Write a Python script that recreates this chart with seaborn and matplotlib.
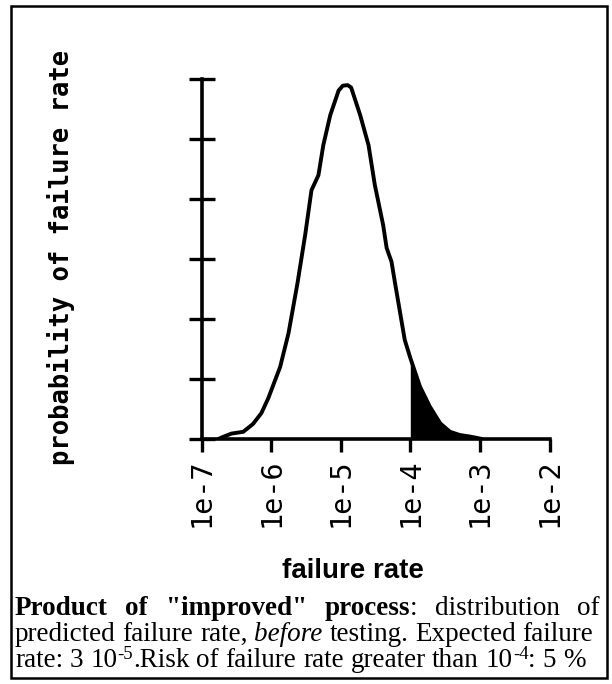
import matplotlib
matplotlib.use("Agg")
import matplotlib.pyplot as plt
import numpy as np
import pandas as pd
import seaborn as sns
from matplotlib.patches import Rectangle
from matplotlib.ticker import NullLocator

# curve: log10(failure rate) and probability (tick units)
log_rate = [-6.76, -6.70, -6.57, -6.40, -6.26, -6.14, -6.04, -5.87, -5.75, -5.62,
            -5.51, -5.42, -5.32, -5.25, -5.15, -5.03, -4.97, -4.90, -4.85, -4.72,
            -4.60, -4.51, -4.39, -4.34, -4.27, -4.22, -4.08, -4.00, -3.86, -3.72,
            -3.57, -3.43, -3.29, -3.14, -3.05, -2.97]
probabilite = [0.0, 0.03, 0.09, 0.12, 0.25, 0.43, 0.68, 1.20, 1.76, 2.60,
               3.40, 4.14, 4.39, 4.89, 5.39, 5.80, 5.88, 5.89, 5.85, 5.39,
               4.89, 4.23, 3.56, 3.18, 2.95, 2.60, 1.65, 1.35, 0.87, 0.54,
               0.26, 0.12, 0.067, 0.04, 0.02, 0.0]

seuil = 1e-4
ticks_x = [1e-7, 1e-6, 1e-5, 1e-4, 1e-3, 1e-2]
labels_x = ["1e-7", "1e-6", "1e-5", "1e-4", "1e-3", "1e-2"]

df = pd.DataFrame({"taux": 10.0 ** np.array(log_rate), "prob": probabilite})

sns.set_style("white")
plt.rcParams['font.family'] = ['DejaVu Sans']
plt.rcParams['text.color'] = 'black'
plt.rcParams['xtick.color'] = 'black'
plt.rcParams['ytick.color'] = 'black'

W, H = 612, 684
fig = plt.figure(figsize=(W / 100, H / 100), dpi=100)

def fx(px):
    return px / W

def fy(py):
    return 1 - py / H

ax = fig.add_axes([fx(201.5), fy(439), 348 / W, 360.5 / H])
sns.lineplot(data=df, x="taux", y="prob", ax=ax, color="black", lw=2.8, estimator=None)
queue = df[df["taux"] >= seuil * 0.999]
ax.fill_between(queue["taux"], queue["prob"], 0, color="black", lw=0)

ax.set_xscale("log")
ax.set_xlim(1e-7, 1e-2)
ax.set_ylim(0, 6)
ax.xaxis.set_minor_locator(NullLocator())
ax.set_xticks(ticks_x)
ax.set_xticklabels(labels_x, rotation=90, fontfamily="DejaVu Sans Mono", fontsize=20.5)
ax.set_yticks(range(7))
ax.set_yticklabels([])
ax.set_xlabel("")
ax.set_ylabel("")
ax.tick_params(axis="y", left=True, direction="inout", length=19, width=2.4, color="black")
ax.tick_params(axis="x", bottom=True, direction="out", length=9, width=2.4, color="black", pad=5)
for s in ["top", "right"]:
    ax.spines[s].set_visible(False)
for s in ["left", "bottom"]:
    ax.spines[s].set_linewidth(2.6)
    ax.spines[s].set_color("black")

fig.text(fx(61), fy(257), "probability of failure rate", rotation=90, ha="center", va="center",
         fontfamily="DejaVu Sans Mono", fontweight="bold", fontsize=18.4)
fig.text(fx(353), fy(571), "failure rate", ha="center", va="center",
         fontfamily="Liberation Sans", fontweight="bold", fontsize=20)

fig.patches.append(Rectangle((fx(11), fy(678)), (607 - 11) / W, (678 - 6) / H,
                             transform=fig.transFigure, fill=False, lw=1.8, ec="black"))

# caption, piece by piece
renderer = fig.canvas.get_renderer()
serif = "Liberation Serif"
taille = 19.5
taille_sup = 13.5

def largeur(txt, **kw):
    t = fig.text(0, 0, txt, fontfamily=serif, **kw)
    w = t.get_window_extent(renderer).width
    t.remove()
    return w

esp = largeur("a a", fontsize=taille) - largeur("aa", fontsize=taille)

def ligne(mots, x0, yb, xdroite=None):
    largeurs = []
    for mot in mots:
        w = 0
        for txt, kw, dy in mot:
            w += largeur(txt, **kw)
        largeurs.append(w)
    if xdroite is not None and len(mots) > 1:
        gap = (xdroite - x0 - sum(largeurs)) / (len(mots) - 1)
    else:
        gap = esp
    x = x0
    for mot, w in zip(mots, largeurs):
        for txt, kw, dy in mot:
            fig.text(fx(x), fy(yb - dy), txt, fontfamily=serif, va="baseline", ha="left", **kw)
            x += largeur(txt, **kw)
        x += gap

B = dict(fontsize=taille, fontweight="bold")
R = dict(fontsize=taille)
I = dict(fontsize=taille, fontstyle="italic")
S = dict(fontsize=taille_sup)

ligne([[("Product", B, 0)], [("of", B, 0)], [('"improved"', B, 0)],
       [("process", B, 0), (":", R, 0)], [("distribution", R, 0)], [("of", R, 0)]],
      15, 615, 600)
ligne([[("predicted", R, 0)], [("failure", R, 0)], [("rate,", R, 0)], [("before", I, 0)],
       [("testing.", R, 0)], [("Expected", R, 0)], [("failure", R, 0)]], 15, 641)
ligne([[("rate:", R, 0)], [("3", R, 0)], [("10", R, 0), ("-5", S, 8), (".Risk", R, 0)],
       [("of", R, 0)], [("failure", R, 0)], [("rate", R, 0)], [("greater", R, 0)],
       [("than", R, 0)], [("10", R, 0), ("-4", S, 8), (":", R, 0)], [("5", R, 0)], [("%", R, 0)]],
      15, 667)

fig.savefig("out.png", dpi=100)
